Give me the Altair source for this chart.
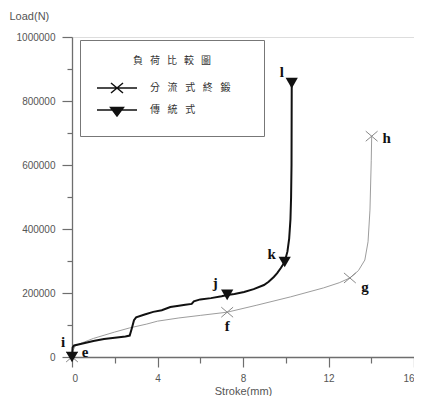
import altair as alt
import pandas as pd

# ---------------- data ----------------
series_names = ["分流式終鍛", "傳統式"]
legend_title = "負\u2002\u2009荷\u2002\u2009比\u2002\u2009較\u2002\u2009圖"

gray_x = [0, 0.05, 0.15, 0.5, 1.0, 1.5, 2.0, 2.7, 3.5, 4.0, 5.0, 6.0, 7.26,
          8.65, 10.23, 11.77, 12.5, 13.0, 13.4, 13.7, 13.85, 13.94, 14.0, 14.02]
gray_y = [0, 20000, 35000, 45000, 58000, 68000, 78000, 91000, 103000, 112000,
          122000, 130000, 140000, 162000, 188000, 216000, 232000, 247000,
          270000, 303000, 360000, 459000, 615000, 690000]

black_x = [0, 0.03, 0.1, 0.5, 1.0, 1.5, 2.0, 2.5, 2.7, 2.8, 2.9, 3.0, 3.4, 3.8,
           4.2, 4.6, 5.0, 5.3, 5.6, 5.7, 6.0, 6.5, 7.0, 7.26, 7.6, 8.05, 8.5,
           8.98, 9.2, 9.44, 9.6, 9.77, 9.95, 10.08, 10.16, 10.22, 10.25, 10.27,
           10.28]
black_y = [0, 30000, 36000, 42000, 50000, 56000, 60000, 64000, 67000, 90000,
           115000, 124000, 133000, 141000, 146000, 156000, 160000, 163000,
           166000, 174000, 180000, 184000, 190000, 194000, 197000, 203000,
           212000, 225000, 235000, 250000, 262000, 278000, 297000, 330000,
           370000, 430000, 500000, 600000, 856000]

gray_pt_labels = ["e", "f", "g", "h"]
gray_pt_x = [0, 7.26, 13.0, 14.02]
gray_pt_y = [0, 140000, 247000, 690000]

black_pt_labels = ["i", "j", "k", "l"]
black_pt_x = [0, 7.26, 9.95, 10.28]
black_pt_y = [0, 194000, 297000, 856000]

x_ticks = list(range(0, 17, 2))
y_ticks = list(range(0, 1000001, 100000))

# ---------------- tables ----------------
gray_df = pd.DataFrame({"x": gray_x, "y": gray_y, "idx": range(len(gray_x))})
black_df = pd.DataFrame({"x": black_x, "y": black_y, "idx": range(len(black_x))})
gray_pts = pd.DataFrame({"x": gray_pt_x, "y": gray_pt_y, "lab": gray_pt_labels,
                         "series": series_names[0]})
black_pts = pd.DataFrame({"x": black_pt_x, "y": black_pt_y, "lab": black_pt_labels,
                          "series": series_names[1]})
all_pts = pd.concat([gray_pts, black_pts], ignore_index=True)

# ---------------- styles ----------------
AXIS_COLOR = "#6e6e6e"
TEXT_COLOR = "#555555"
SANS = "Liberation Sans"
CJK = "Noto Sans CJK TC"
GAP = "\u2002\u2009\u200a"
TRAIL = "\u2002\u2002\u2800"

xscale = alt.Scale(domain=[0, 16], nice=False, zero=False)
yscale = alt.Scale(domain=[0, 1000000], nice=False)

x_axis = alt.Axis(
    values=x_ticks,
    labelExpr="datum.value % 4 === 0 ? datum.label : ''",
    tickSize={"condition": {"test": "datum.value % 4 === 0", "value": 10}, "value": 6},
    grid=False, domainColor=AXIS_COLOR, tickColor=AXIS_COLOR, domainWidth=1.3,
    tickWidth=1.2, labelColor=TEXT_COLOR, labelFont=SANS, labelFontSize=10,
    labelPadding=6, title="Stroke(mm)", titleFont=SANS, titleFontSize=11,
    titleFontWeight="normal", titleColor=TEXT_COLOR, titlePadding=2,
)
y_axis = alt.Axis(
    values=y_ticks,
    format="d",
    labelExpr="datum.value % 200000 === 0 ? datum.label : ''",
    tickSize={"condition": {"test": "datum.value % 200000 === 0", "value": 10}, "value": 5},
    grid=False, domainColor=AXIS_COLOR, tickColor=AXIS_COLOR, domainWidth=1.3,
    tickWidth=1.2, labelColor=TEXT_COLOR, labelFont=SANS, labelFontSize=10,
    labelPadding=7, title="Load(N)", titleFont=SANS, titleFontSize=11,
    titleFontWeight="normal", titleColor=TEXT_COLOR, titleAngle=0,
    titleAlign="left", titleBaseline="middle", titleX=-63, titleY=-21,
)

X = alt.X("x:Q", scale=xscale, axis=x_axis)
Y = alt.Y("y:Q", scale=yscale, axis=y_axis)

gray_line = alt.Chart(gray_df).mark_line(color="#9d9d9d", strokeWidth=1).encode(
    x=X, y=Y, order="idx:Q")
black_line = alt.Chart(black_df).mark_line(color="#111111", strokeWidth=2).encode(
    x=X, y=Y, order="idx:Q")

gray_mark = alt.Chart(gray_pts).mark_point(
    shape="M-1,-0.85L1,0.85M-1,0.85L1,-0.85", size=140, stroke="#888888",
    strokeWidth=1, filled=False, opacity=1).encode(x=X, y=Y)
black_mark = alt.Chart(black_pts).mark_point(
    shape="triangle-down", size=150, filled=True, color="#111111",
    opacity=1).encode(x=X, y=Y)

# legend (symbols drawn with line + marker)
legend_paths = ["M-1,0H1M-0.3,-0.25L0.3,0.25M-0.3,0.25L0.3,-0.25",
                "M-1,0H1M-0.32,-0.12H0.32L0,0.3Z"]
legend_layer = alt.Chart(all_pts).mark_point(
    filled=True, fill="#111111", stroke="#111111", strokeWidth=1.6, size=1600,
).encode(
    x=X, y=Y,
    shape=alt.Shape("series:N",
                    scale=alt.Scale(domain=series_names, range=legend_paths),
                    legend=alt.Legend(
                        title=legend_title, orient="none", legendX=8, legendY=3,
                        strokeColor="#777777", fillColor="white", padding=16,
                        titleFont=CJK, titleFontSize=10, titleFontWeight="normal",
                        titleColor="#333333", titleAnchor="middle", titlePadding=12,
                        labelFont=CJK, labelFontSize=10, labelColor="#333333",
                        labelOffset=12, clipHeight=20, rowPadding=2,
                        symbolSize=1600, symbolOpacity=1,
                        labelExpr="join(split(datum.label, ''), '" + GAP + "') + '" + TRAIL + "'",
                    )),
).transform_filter("false")

# point labels
label_offsets = {"e": (13, -5), "f": (0, 14), "g": (15, 9), "h": (15, 2),
                 "i": (-9, -15), "j": (-12, -12), "k": (-13, -8), "l": (-10, -11)}
label_layers = []
for name, (dx, dy) in label_offsets.items():
    label_layers.append(
        alt.Chart(all_pts).mark_text(
            font="Liberation Serif", fontSize=15, fontWeight="bold",
            color="#111111", dx=dx, dy=dy, align="center", baseline="middle",
        ).encode(x=X, y=Y, text="lab:N").transform_filter(
            alt.datum.lab == name)
    )

chart = alt.layer(
    gray_line, black_line, gray_mark, black_mark, legend_layer, *label_layers
).properties(
    width=342, height=320, autosize="none",
    padding={"left": 64, "top": 29, "right": 0, "bottom": 39},
).configure_view(strokeWidth=0).configure(background="white")

chart.save("out.html", embed_options={"renderer": "svg", "actions": False})
